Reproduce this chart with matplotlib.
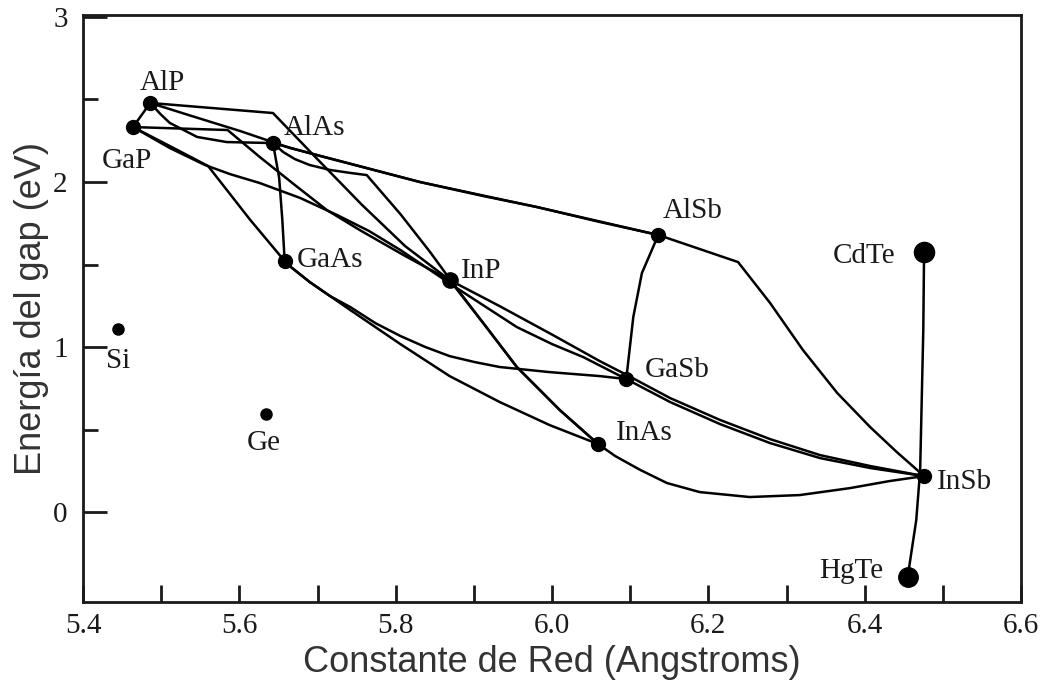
import matplotlib
matplotlib.use("Agg")
import matplotlib.pyplot as plt
from matplotlib.ticker import FixedLocator

# ---- compounds (lattice constant in Angstrom, gap in eV) ----
names = ["AlP", "GaP", "AlAs", "GaAs", "InP", "AlSb", "GaSb", "InAs", "InSb",
         "CdTe", "HgTe", "Si", "Ge"]
lattice = [5.486, 5.464, 5.643, 5.658, 5.869, 6.136, 6.095, 6.059, 6.476,
           6.476, 6.455, 5.445, 5.634]
gap = [2.479, 2.333, 2.236, 1.521, 1.406, 1.679, 0.806, 0.412, 0.218,
       1.576, -0.394, 1.109, 0.594]

# ---- alloy curves ----
AlP_GaP_x = [5.486, 5.464]
AlP_GaP_y = [2.479, 2.333]
AlP_InP_x = [5.486, 5.643, 5.701, 5.757, 5.812, 5.869]
AlP_InP_y = [2.479, 2.418, 2.133, 1.861, 1.612, 1.406]
GaP_InP_x = [5.464, 5.585, 5.626, 5.671, 5.712, 5.754, 5.812, 5.869]
GaP_InP_y = [2.333, 2.315, 2.152, 1.982, 1.830, 1.709, 1.552, 1.406]
GaP_GaAs_x = [5.464, 5.511, 5.560, 5.614, 5.658]
GaP_GaAs_y = [2.333, 2.218, 2.097, 1.770, 1.521]
GaP_GaSb_x = [5.464, 5.511, 5.556, 5.588, 5.626, 5.678, 5.725, 5.766, 5.806,
              5.876, 5.955, 6.000, 6.040, 6.095]
GaP_GaSb_y = [2.333, 2.206, 2.103, 2.048, 1.994, 1.903, 1.800, 1.703, 1.588,
              1.364, 1.121, 1.018, 0.939, 0.806]
GaAs_GaSb_x = [5.658, 5.690, 5.716, 5.742, 5.774, 5.806, 5.838, 5.869, 5.901,
               5.933, 5.997, 6.061, 6.095]
GaAs_GaSb_y = [1.515, 1.394, 1.309, 1.242, 1.145, 1.067, 1.000, 0.945, 0.909,
               0.879, 0.848, 0.824, 0.806]
GaAs_InAs_x = [5.658, 5.690, 5.742, 5.806, 5.869, 5.933, 5.997, 6.059]
GaAs_InAs_y = [1.515, 1.394, 1.224, 1.018, 0.824, 0.667, 0.527, 0.412]
AlAs_GaAs_x = [5.643, 5.651, 5.655, 5.658]
AlAs_GaAs_y = [2.236, 2.024, 1.770, 1.521]
AlP_AlAs_x = [5.486, 5.499, 5.511, 5.546, 5.584, 5.643]
AlP_AlAs_y = [2.479, 2.412, 2.358, 2.273, 2.242, 2.236]
AlAs_AlSb_x = [5.643, 5.703, 5.767, 5.831, 5.912, 5.981, 6.061, 6.136]
AlAs_AlSb_y = [2.236, 2.158, 2.079, 2.000, 1.915, 1.848, 1.758, 1.679]
AlP_AlSb_x = [5.486, 5.539, 5.601, 5.665, 5.729, 5.831, 5.981, 6.136]
AlP_AlSb_y = [2.479, 2.400, 2.309, 2.206, 2.127, 2.000, 1.848, 1.679]
AlAs_InAs_x = [5.643, 5.656, 5.671, 5.690, 5.716, 5.742, 5.763, 5.806, 5.844,
               5.872, 5.914, 5.955, 6.010, 6.059]
AlAs_InAs_y = [2.236, 2.182, 2.139, 2.103, 2.073, 2.055, 2.042, 1.806, 1.576,
               1.394, 1.133, 0.879, 0.618, 0.412]
InP_InAs_x = [5.869, 5.914, 5.955, 6.010, 6.059]
InP_InAs_y = [1.406, 1.133, 0.879, 0.618, 0.412]
AlSb_GaSb_x = [6.136, 6.115, 6.104, 6.095]
AlSb_GaSb_y = [1.679, 1.448, 1.182, 0.806]
AlSb_InSb_x = [6.136, 6.238, 6.279, 6.321, 6.365, 6.407, 6.441, 6.476]
AlSb_InSb_y = [1.679, 1.515, 1.267, 0.982, 0.721, 0.515, 0.364, 0.218]
GaSb_InSb_x = [6.095, 6.151, 6.215, 6.279, 6.343, 6.407, 6.476]
GaSb_InSb_y = [0.806, 0.667, 0.533, 0.418, 0.327, 0.267, 0.218]
InP_InSb_x = [5.869, 5.933, 6.001, 6.061, 6.096, 6.151, 6.215, 6.279, 6.343,
              6.407, 6.476]
InP_InSb_y = [1.406, 1.248, 1.073, 0.915, 0.830, 0.691, 0.558, 0.442, 0.345,
              0.279, 0.218]
InAs_InSb_x = [6.059, 6.081, 6.113, 6.147, 6.189, 6.253, 6.317, 6.381, 6.432,
               6.476]
InAs_InSb_y = [0.412, 0.339, 0.255, 0.176, 0.121, 0.091, 0.103, 0.145, 0.188,
               0.218]
CdTe_HgTe_x = [6.476, 6.475, 6.473, 6.471, 6.466, 6.455]
CdTe_HgTe_y = [1.576, 1.103, 0.679, 0.255, -0.048, -0.394]

curves = [
    (AlP_GaP_x, AlP_GaP_y), (AlP_InP_x, AlP_InP_y), (GaP_InP_x, GaP_InP_y),
    (GaP_GaAs_x, GaP_GaAs_y), (GaP_GaSb_x, GaP_GaSb_y),
    (GaAs_GaSb_x, GaAs_GaSb_y), (GaAs_InAs_x, GaAs_InAs_y),
    (AlAs_GaAs_x, AlAs_GaAs_y), (AlP_AlAs_x, AlP_AlAs_y),
    (AlAs_AlSb_x, AlAs_AlSb_y), (AlP_AlSb_x, AlP_AlSb_y),
    (AlAs_InAs_x, AlAs_InAs_y), (InP_InAs_x, InP_InAs_y),
    (AlSb_GaSb_x, AlSb_GaSb_y), (AlSb_InSb_x, AlSb_InSb_y),
    (GaSb_InSb_x, GaSb_InSb_y), (InP_InSb_x, InP_InSb_y),
    (InAs_InSb_x, InAs_InSb_y), (CdTe_HgTe_x, CdTe_HgTe_y),
]

x_ticks = [5.4, 5.6, 5.8, 6.0, 6.2, 6.4, 6.6]
x_tick_labels = ["5.4", "5.6", "5.8", "6.0", "6.2", "6.4", "6.6"]
y_ticks = [0, 1, 2, 3]
y_tick_labels = ["0", "1", "2", "3"]

# ---- styling (not data) ----
marker_sizes = {"CdTe": 14.5, "HgTe": 14, "Si": 8, "Ge": 8, "InP": 11}
label_offsets = {  # pixels: (dx, dy) for label baseline centre
    "AlP": (12, 13), "GaP": (-6, -41), "AlAs": (42, 8), "GaAs": (45, -6),
    "InP": (32, 2), "AlSb": (34, 17), "GaSb": (51, 2), "InAs": (46, 4),
    "InSb": (40, -13), "CdTe": (-60, -11), "HgTe": (-56, -1),
    "Si": (0, -39), "Ge": (-2, -36),
}

W, H = 1045, 685
fig = plt.figure(figsize=(W / 100, H / 100), dpi=100)
ax = fig.add_axes([83 / W, (H - 602) / H, (1021 - 83) / W, (602 - 15) / H])

for cx, cy in curves:
    ax.plot(cx, cy, color="black", lw=1.8, solid_joinstyle="round", zorder=2)

for n, lx, gy in zip(names, lattice, gap):
    ax.plot([lx], [gy], "o", color="black", ms=marker_sizes.get(n, 10),
            zorder=3)
    dx, dy = label_offsets[n]
    ax.annotate(n, (lx, gy), xytext=(dx, dy), textcoords="offset pixels",
                ha="center", va="baseline", fontsize=21,
                family="Liberation Serif", color="#1a1a1a")

ax.set_xlim(5.4, 6.6)
ax.set_ylim(-0.545, 3.012)

ax.xaxis.set_major_locator(FixedLocator(x_ticks))
ax.set_xticklabels(x_tick_labels)
ax.xaxis.set_minor_locator(FixedLocator([5.5, 5.7, 5.9, 6.1, 6.3, 6.5]))
ax.yaxis.set_major_locator(FixedLocator(y_ticks))
ax.set_yticklabels(y_tick_labels)
ax.yaxis.set_minor_locator(FixedLocator([0.5, 1.5, 2.5]))

ax.tick_params(axis="both", which="both", direction="in", width=2,
               top=False, right=False, color="#1a1a1a")
ax.tick_params(axis="x", which="both", length=12.5, pad=8)
ax.tick_params(axis="y", which="major", length=17, pad=11)
ax.tick_params(axis="y", which="minor", length=11)
for lab in ax.get_xticklabels() + ax.get_yticklabels():
    lab.set_family("Liberation Serif")
    lab.set_fontsize(21)
    lab.set_color("#1a1a1a")

for s in ax.spines.values():
    s.set_linewidth(2)
    s.set_color("#1a1a1a")

ax.set_xlabel("Constante de Red (Angstroms)", family="Liberation Sans",
              fontsize=26, color="#333333", labelpad=4)
ax.set_ylabel("Energía del gap (eV)", family="Liberation Sans",
              fontsize=26, color="#333333", labelpad=3)

fig.savefig("out.png", dpi=100)
